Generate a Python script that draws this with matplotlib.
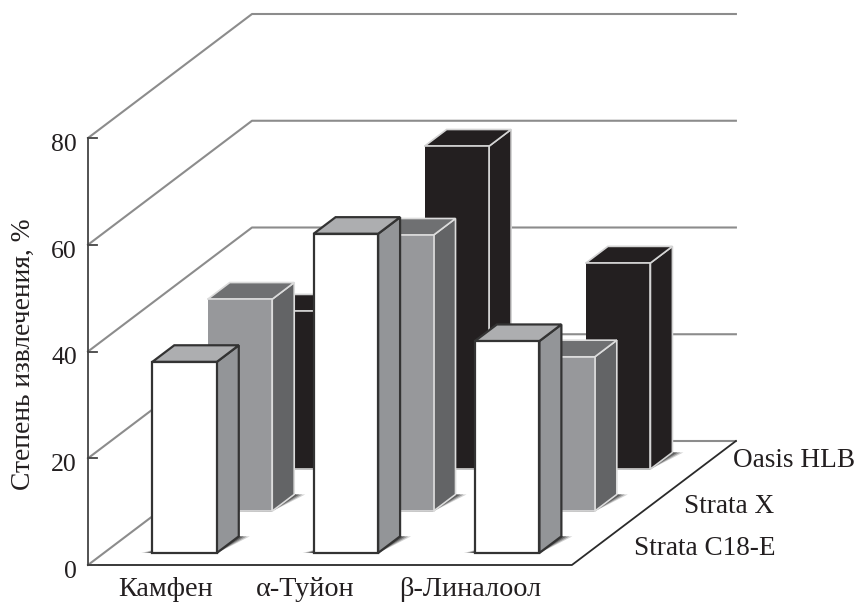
import matplotlib
matplotlib.use("Agg")
import matplotlib.pyplot as plt

plt.rcParams['font.family'] = ['Liberation Serif', 'DejaVu Serif']

# Recovery values, %
categories = ['Камфен', 'α-Туйон', 'β-Линалоол']
strata_c18 = [35.8, 59.8, 39.7]
strata_x = [39.7, 51.7, 28.9]
oasis_hlb = [29.6, 60.5, 38.6]
series_names = ['Strata C18-E', 'Strata X', 'Oasis HLB']
y_ticks = [0, 20, 40, 60, 80]

# Oblique projection of the box, in figure pixels
X0, Y0 = 88, 565
CAT_W = 161.3
PX_PER_UNIT = 5.3375
DEPTH_DX, DEPTH_DY = 164, 124
BAR_W = 64.5
ROW_DEPTH = [0.097, 0.435, 0.774]
BAR_DEPTH = 0.134

FACES = [
    # front, side, top, edge, line width
    ('#ffffff', '#939598', '#adaeb0', '#333333', 1.6),
    ('#97989b', '#636466', '#6f7072', '#dcdcdc', 1.2),
    ('#231f20', '#231f20', '#231f20', '#d4d4d4', 1.2),
]
GRID = '#8c8c8c'
TEXT = '#231f20'


def project(x, value, depth):
    """Map box coordinates to pixel coordinates."""
    return (X0 + x + depth * DEPTH_DX, Y0 - value * PX_PER_UNIT - depth * DEPTH_DY)


def poly(ax, corners, **kw):
    ax.fill([c[0] for c in corners], [c[1] for c in corners], **kw)


def draw_shadow(ax, left, right, depth):
    # soft dark patch on the floor, built from stacked translucent shapes
    back = depth + BAR_DEPTH
    for grow, alpha in [(11, 0.22), (8, 0.35), (5, 0.5), (2, 0.6)]:
        corners = [project(left - grow, 0, depth), project(right, 0, depth - 0.006),
                   project(right + grow, 0, back),
                   project(right - 10, 0, back), project(left, 0, depth + 0.035)]
        poly(ax, corners, color='#2e2e2e', alpha=alpha, lw=0, zorder=2)


def draw_bar(ax, i, row, value):
    front, side, top, edge, lw = FACES[row]
    d0 = ROW_DEPTH[row]
    d1 = d0 + BAR_DEPTH
    left = CAT_W * (i + 0.5) - BAR_W / 2
    right = left + BAR_W
    draw_shadow(ax, left, right, d0)
    kw = dict(ec=edge, lw=lw, joinstyle='miter', zorder=3)
    poly(ax, [project(right, 0, d0), project(right, 0, d1),
              project(right, value, d1), project(right, value, d0)], fc=side, **kw)
    poly(ax, [project(left, value, d0), project(right, value, d0),
              project(right, value, d1), project(left, value, d1)], fc=top, **kw)

    corners = [project(left, 0, d0), project(right, 0, d0),
               project(right, value, d0), project(left, value, d0)]
    if row == 0:
        poly(ax, corners, fc=front, **kw)
    else:
        # darker bars only catch light along the top and right edges
        poly(ax, corners, fc=front, ec='none', lw=0, zorder=3)
        ax.plot([p[0] for p in corners], [p[1] for p in corners], color=edge, lw=lw,
                solid_joinstyle='miter', zorder=3)


def draw_frame(ax):
    width = CAT_W * len(categories)
    for t in y_ticks:
        pts = [project(0, t, 0), project(0, t, 1), project(width, t, 1)]
        ax.plot([p[0] for p in pts], [p[1] for p in pts], color=GRID, lw=1.5, zorder=1)

    # front axis lines and ticks
    a, b = project(0, 0, 0), project(0, y_ticks[-1], 0)
    ax.plot([a[0], b[0]], [a[1], b[1]], color='#444444', lw=1.3, zorder=4)
    c = project(width, 0, 0)
    d = project(width, 0, 1)
    ax.plot([a[0], c[0], d[0]], [a[1], c[1], d[1]], color='#2a2a2a', lw=1.3, zorder=4)
    for t in y_ticks:
        p = project(0, t, 0)
        ax.plot([p[0], p[0] + 9], [p[1], p[1]], color='#444444', lw=1.3, zorder=4)
        ax.text(p[0] - 11, p[1] + 7, str(t), ha='right', va='center', fontsize=18.5, color=TEXT)


def main():
    fig = plt.figure(figsize=(8.55, 6.02), dpi=100)
    ax = fig.add_axes([0, 0, 1, 1])
    ax.set_xlim(0, 855)
    ax.set_ylim(602, 0)
    ax.axis('off')

    draw_frame(ax)

    # rows are painted from the back towards the viewer
    rows = [strata_c18, strata_x, oasis_hlb]
    for row in reversed(range(len(rows))):
        for i, value in enumerate(rows[row]):
            draw_bar(ax, i, row, value)

    for name, x in zip(categories, [165.5, 305.5, 470]):
        ax.text(x, 595.5, name, ha='center', va='baseline', fontsize=20.3, color=TEXT)

    for name, x, y in zip(series_names, [775, 774, 855], [555, 513, 467]):
        ax.text(x, y, name, ha='right', va='baseline', fontsize=19.6, color=TEXT)

    ax.text(23, 354, 'Степень извлечения, %', rotation=90, ha='center', va='center',
            fontsize=19.8, color=TEXT)

    fig.savefig('out.png', dpi=100)


if __name__ == "__main__":
    main()
